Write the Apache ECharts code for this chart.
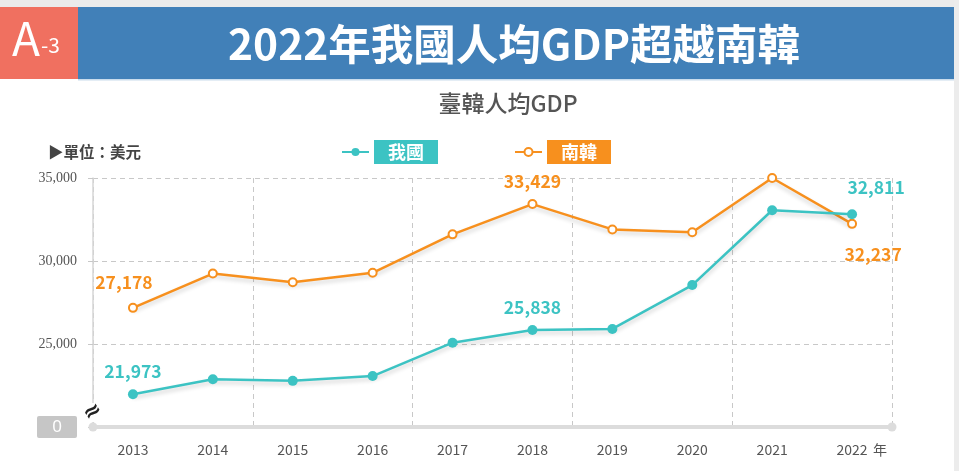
<!DOCTYPE html>
<html><head><meta charset="utf-8">
<script src="https://cdn.jsdelivr.net/npm/echarts@6/dist/echarts.min.js"></script>
<style>html,body{margin:0;padding:0;background:#fff;}#c{width:959px;height:471px;}</style>
</head><body><div id="c"></div>
<script>
const years = ['2013','2014','2015','2016','2017','2018','2019','2020','2021','2022'];
const taiwan = [21973, 22874, 22780, 23070, 25080, 25838, 25908, 28549, 33059, 32811];
const korea = [27178, 29242, 28724, 29287, 31605, 33429, 31902, 31728, 35000, 32237];
const yTicks = [20000, 25000, 30000, 35000];
const labeledIdx = [0, 5, 9];

const TEAL = '#3cc3c3', ORANGE = '#f7901e';
const CJK = '"Noto Sans CJK TC","Noto Sans",sans-serif';

function fmt(v){ return v.toLocaleString('en-US'); }

function buildData(vals, color, special){
  return vals.map((v,i)=>{
    if(labeledIdx.indexOf(i) < 0) return v;
    const lab = Object.assign({show:true, position:'top', distance:8, color:color,
      fontFamily:CJK, fontSize:17.5, fontWeight:'bold', lineHeight:20,
      formatter:(p)=>fmt(p.value)}, special[i]||{});
    return {value:v, label:lab};
  });
}

const chart = echarts.init(document.getElementById('c'), null, {renderer:'canvas'});
chart.setOption({
  backgroundColor:'#fff',
  animation:false,
  grid:{left:93, right:67, top:178, bottom:44},
  legend:{
    left:341, top:140, padding:0, itemWidth:27, itemHeight:10, itemGap:76,
    data:[
      {name:'我國', textStyle:{backgroundColor:TEAL}},
      {name:'南韓', textStyle:{backgroundColor:ORANGE}}
    ],
    textStyle:{color:'#fff', fontFamily:CJK, fontSize:18, fontWeight:'bold', padding:[3,14,3,14], lineHeight:18}
  },
  xAxis:{
    type:'category', data:years, boundaryGap:true,
    axisLine:{show:true, symbol:['circle','circle'], symbolSize:[9,9], lineStyle:{color:'#dcdcdc', width:4}},
    axisTick:{show:false},
    axisLabel:{color:'#555', fontFamily:CJK, fontSize:14, margin:16},
    splitLine:{show:true, interval:1, lineStyle:{color:'#c8c8c8', type:[5,4], width:1}}
  },
  yAxis:{
    type:'value', min:yTicks[0], max:yTicks[yTicks.length-1], interval:5000,
    axisLine:{show:true, lineStyle:{color:'#d6d6d6', width:1.5}},
    axisTick:{show:true, length:5, lineStyle:{color:'#c8c8c8'}},
    axisLabel:{
      margin:16, color:'#555', fontFamily:'"Liberation Serif","DejaVu Serif",serif', fontSize:14,
      formatter:(v)=> v===yTicks[0] ? '{z|0}' : fmt(v),
      rich:{z:{backgroundColor:'#c6c6c6', color:'#fff', width:40, height:22, align:'center', lineHeight:22,
        fontFamily:'"Noto Sans",sans-serif', fontSize:17, borderRadius:2}}
    },
    splitLine:{show:true, lineStyle:{color:'#c8c8c8', type:[5,4], width:1}}
  },
  series:[
    {
      name:'南韓', type:'line', data:buildData(korea, ORANGE, {
        0:{offset:[-9,-3]},
        9:{position:'bottom', distance:15, offset:[21,0]}
      }),
      color:ORANGE, symbol:'emptyCircle', symbolSize:8, z:3,
      lineStyle:{color:ORANGE, width:2.5, shadowColor:'rgba(0,0,0,0.18)', shadowBlur:4, shadowOffsetY:3},
      itemStyle:{color:ORANGE, borderWidth:2}
    },
    {
      name:'我國', type:'line', data:buildData(taiwan, TEAL, {
        9:{offset:[24,-4]}
      }),
      color:TEAL, symbol:'circle', symbolSize:10, z:4,
      lineStyle:{color:TEAL, width:2.5, shadowColor:'rgba(0,0,0,0.18)', shadowBlur:4, shadowOffsetY:3},
      itemStyle:{color:TEAL}
    }
  ],
  graphic:[
    {type:'rect', shape:{x:0,y:0,width:959,height:7}, style:{fill:'#ebebeb'}, silent:true},
    {type:'rect', shape:{x:954,y:0,width:5,height:471}, style:{fill:'#ececec'}, silent:true},
    {type:'rect', shape:{x:78,y:7,width:876,height:72}, style:{fill:'#4180b8'}, silent:true},
    {type:'rect', shape:{x:78,y:79,width:876,height:1.5}, style:{fill:'#c9dcec'}, silent:true},
    {type:'rect', shape:{x:0,y:7,width:78,height:72}, style:{fill:'#f07060'}, silent:true},
    {type:'text', left:12, top:16, style:{text:'{a|A}{b|-3}', rich:{
      a:{fontFamily:CJK, fontSize:46, fill:'#fff', verticalAlign:'bottom'},
      b:{fontFamily:CJK, fontSize:21, fill:'#fff', verticalAlign:'bottom', padding:[0,0,6,1]}
    }}},
    {type:'text', x:514, y:44, style:{text:'2022年我國人均GDP超越南韓', fill:'#fff',
      font:'bold 42.5px "Noto Sans CJK TC", sans-serif', align:'center', verticalAlign:'middle'}},
    {type:'text', x:508, y:103, style:{text:'臺韓人均GDP', fill:'#555',
      font:'500 23px "Noto Sans CJK TC", sans-serif', align:'center', verticalAlign:'middle'}},
    {type:'text', x:48, y:152, style:{text:'▶單位：美元', fill:'#444',
      font:'bold 15.5px "Noto Sans CJK TC", sans-serif', align:'left', verticalAlign:'middle'}},
    {type:'text', x:880, y:450, style:{text:'年', fill:'#555',
      font:'14px "Noto Sans CJK TC", sans-serif', align:'center', verticalAlign:'middle'}},
    {type:'rect', shape:{x:88,y:403,width:10,height:19}, style:{fill:'#fff'}, z:10},
    {type:'text', x:93, y:412, rotation:0.6, z:11, style:{text:'≈', fill:'#222',
      font:'bold 22px "DejaVu Sans", sans-serif', align:'center', verticalAlign:'middle'}}
  ]
});
</script>
</body></html>
